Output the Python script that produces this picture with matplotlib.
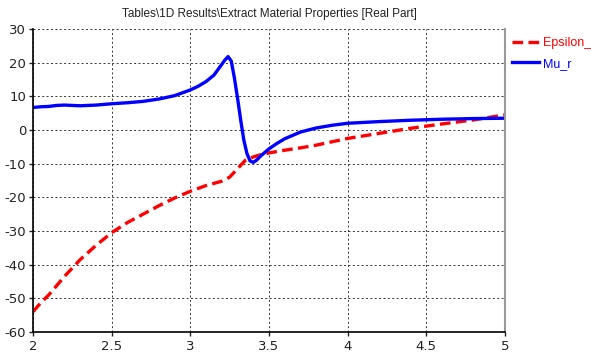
import numpy as np
import matplotlib.pyplot as plt

plt.rcParams['axes.unicode_minus'] = False

# Frequency sweep and extracted material parameters (real part)
freq_mu = [2.0, 2.05, 2.1, 2.15, 2.2, 2.3, 2.4, 2.5, 2.6, 2.7, 2.8, 2.9, 3.0,
           3.05, 3.1, 3.15, 3.2, 3.22, 3.24, 3.26, 3.28, 3.3, 3.32, 3.34,
           3.36, 3.38, 3.4, 3.42, 3.45, 3.5, 3.55, 3.6, 3.7, 3.8, 3.9, 4.0,
           4.2, 4.4, 4.6, 4.8, 5.0]
mu_r = [6.7, 6.9, 7.0, 7.3, 7.4, 7.2, 7.4, 7.8, 8.1, 8.5, 9.2, 10.2, 11.9,
        13.0, 14.4, 16.3, 19.5, 20.8, 21.8, 20.5, 15.5, 9.5, 3.0, -3.0,
        -7.0, -9.2, -9.6, -9.0, -7.6, -5.6, -4.0, -2.6, -0.6, 0.6, 1.4, 2.0,
        2.5, 2.9, 3.2, 3.4, 3.5]

freq_eps = [2.0, 2.05, 2.1, 2.2, 2.3, 2.4, 2.5, 2.6, 2.7, 2.8, 2.9, 3.0, 3.1,
            3.2, 3.25, 3.3, 3.35, 3.4, 3.45, 3.5, 3.6, 3.7, 3.8, 3.9, 4.0,
            4.2, 4.4, 4.6, 4.8, 5.0]
eps_r = [-54.0, -51.3, -49.0, -43.5, -38.5, -34.3, -30.5, -27.5, -25.0,
         -22.5, -20.2, -18.2, -16.5, -15.2, -14.0, -11.5, -9.0, -8.0, -7.3,
         -6.8, -6.0, -5.3, -4.5, -3.5, -2.5, -1.0, 0.5, 1.8, 3.0, 4.5]

xticks = [2, 2.5, 3, 3.5, 4, 4.5, 5]
xticklabels = ['2', '2.5', '3', '3.5', '4', '4.5', '5']
yticks = list(range(-60, 31, 10))

fig = plt.figure(figsize=(5.91, 3.59), dpi=100)
ax = fig.add_axes([0.0558, 0.0752, 0.7987, 0.844])

ax.plot(freq_eps, eps_r, color='#ff0000', lw=2.4, ls=(0, (3.2, 1.6)),
        label='Epsilon_')
ax.plot(freq_mu, mu_r, color='#0000ff', lw=2.4, label='Mu_r')

ax.set_xlim(2, 5)
ax.set_ylim(-60, 30)
ax.set_xticks(xticks)
ax.set_xticklabels(xticklabels)
ax.set_yticks(yticks)
ax.grid(True, color='#333333', ls=(0, (2, 2.5)), lw=0.7)
ax.tick_params(labelsize=9.5, length=3, width=1, colors='#222222')
ax.tick_params(axis='x', pad=3)
ax.tick_params(axis='y', pad=2)

ax.spines['top'].set_visible(False)
ax.spines['right'].set_color('#999999')
ax.spines['right'].set_linewidth(1.5)
ax.spines['left'].set_linewidth(1.2)
ax.spines['bottom'].set_linewidth(1.2)

ax.set_title(r'Tables\1D Results\Extract Material Properties [Real Part]',
             fontsize=8.5, family='Liberation Sans', color='#222222', pad=9)

ax.legend(loc='upper left', bbox_to_anchor=(1.004, 0.99), frameon=False,
          labelcolor='linecolor', prop={'family': 'Liberation Sans', 'size': 9},
          handlelength=2.2, handletextpad=0.25, labelspacing=0.7,
          borderaxespad=0)

fig.savefig('out.png', dpi=100)
